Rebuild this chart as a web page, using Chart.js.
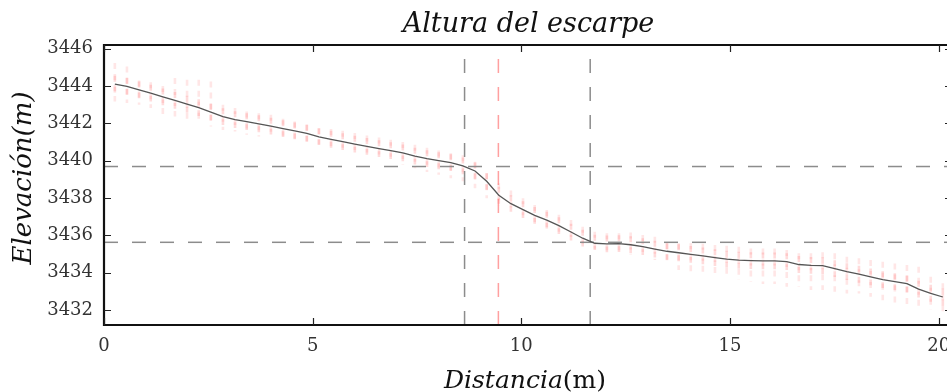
<!DOCTYPE html>
<html><head><meta charset="utf-8">
<script src="https://cdn.jsdelivr.net/npm/chart.js@4.4.0/dist/chart.umd.min.js"></script>
<style>html,body{margin:0;padding:0;background:#fff;overflow:hidden}#wrap{width:947px;height:392px;position:relative}</style>
</head><body><div id="wrap"><canvas id="c"></canvas></div>
<script>
// ---- data ----
const chartTitle = 'Altura del escarpe';
const distance = [0.26,0.55,0.84,1.12,1.41,1.70,1.99,2.27,2.56,2.85,3.14,3.42,3.71,4.00,4.29,4.57,4.86,5.15,5.44,5.72,6.01,6.30,6.59,6.87,7.16,7.45,7.74,8.02,8.31,8.60,8.89,9.17,9.46,9.75,10.04,10.32,10.61,10.90,11.19,11.47,11.76,12.05,12.34,12.62,12.91,13.20,13.49,13.77,14.06,14.35,14.64,14.92,15.21,15.50,15.79,16.07,16.36,16.65,16.94,17.22,17.51,17.80,18.09,18.37,18.66,18.95,19.24,19.52,19.81,20.10];
const elevation = [3444.10,3443.98,3443.80,3443.62,3443.42,3443.23,3443.03,3442.84,3442.60,3442.36,3442.20,3442.09,3441.98,3441.85,3441.72,3441.60,3441.47,3441.28,3441.15,3441.02,3440.89,3440.77,3440.65,3440.54,3440.42,3440.25,3440.11,3440.00,3439.90,3439.72,3439.45,3438.90,3438.15,3437.70,3437.38,3437.07,3436.82,3436.52,3436.18,3435.85,3435.58,3435.55,3435.56,3435.50,3435.40,3435.27,3435.15,3435.07,3434.98,3434.90,3434.81,3434.73,3434.68,3434.65,3434.63,3434.63,3434.60,3434.44,3434.39,3434.38,3434.22,3434.06,3433.92,3433.78,3433.63,3433.52,3433.42,3433.12,3432.90,3432.70];
const errLow = [3443.17,3443.09,3443.00,3442.82,3442.40,3442.37,3442.19,3442.01,3441.83,3441.65,3441.56,3441.39,3441.30,3441.30,3441.20,3441.05,3440.95,3440.85,3440.70,3440.55,3440.31,3440.20,3440.10,3439.95,3439.80,3439.60,3439.40,3439.25,3439.06,3438.90,3438.53,3437.99,3437.60,3437.27,3436.92,3436.56,3436.20,3436.00,3435.66,3435.40,3435.22,3435.04,3435.04,3434.95,3434.86,3434.68,3434.50,3434.14,3433.96,3433.96,3433.78,3433.78,3433.61,3433.50,3433.40,3433.40,3433.25,3433.25,3433.07,3433.07,3432.98,3432.89,3432.89,3432.71,3432.53,3432.36,3432.27,3432.17,3432.00,3431.82];
const errHigh = [3445.23,3445.05,3444.30,3444.20,3444.00,3444.43,3444.34,3444.34,3444.25,3443.00,3442.82,3442.64,3442.55,3442.46,3442.25,3442.10,3441.95,3441.75,3441.70,3441.60,3441.48,3441.35,3441.25,3441.12,3441.00,3440.85,3440.70,3440.55,3440.40,3440.30,3439.95,3439.33,3438.80,3438.40,3437.99,3437.63,3437.36,3437.10,3436.83,3436.47,3436.20,3436.11,3436.11,3436.15,3436.02,3435.93,3435.58,3435.58,3435.58,3435.55,3435.48,3435.45,3435.39,3435.30,3435.30,3435.30,3435.22,3435.04,3435.04,3435.10,3435.04,3434.86,3434.77,3434.68,3434.59,3434.50,3434.41,3434.32,3433.78,3433.43];
const xTicks = [0,5,10,15,20];
const yTicks = [3432,3434,3436,3438,3440,3442,3444,3446];
const hRefs = [3439.69, 3435.63];
const vRefsGrey = [8.64, 11.65];
const vRefsRed = [9.45];
const xRange = [0, 20.2];
const yRange = [3431.2, 3446.2];

const SERIF = '"DejaVu Serif", serif';

const datasets = [];
hRefs.forEach(h => datasets.push({
  data: [{x:xRange[0], y:h},{x:xRange[1], y:h}],
  borderColor:'#8c8c8c', borderWidth:1.5, borderDash:[14,14], pointRadius:0, order:3
}));
vRefsGrey.forEach(v => datasets.push({
  data: [{x:v, y:yRange[1]},{x:v, y:yRange[0]}],
  borderColor:'#8c8c8c', borderWidth:1.5, borderDash:[14,14], borderDashOffset:-14, pointRadius:0, order:3
}));
vRefsRed.forEach(v => datasets.push({
  data: [{x:v, y:yRange[1]},{x:v, y:yRange[0]}],
  borderColor:'rgba(255,120,120,0.7)', borderWidth:1.5, borderDash:[14,14], borderDashOffset:-14, pointRadius:0, order:3
}));
datasets.push({
  data: distance.map((x,i)=>({x, y: elevation[i]})),
  borderColor:'#555', borderWidth:1.3, pointRadius:0, tension:0, order:0
});

const errorBars = {
  id:'errorBars',
  beforeDatasetsDraw(chart){
    const {ctx, scales:{x, y}, chartArea:a} = chart;
    ctx.save();
    ctx.beginPath(); ctx.rect(a.left, a.top, a.right-a.left, a.bottom-a.top); ctx.clip();
    ctx.lineWidth = 2.6;
    ctx.setLineDash([6,5]);
    distance.forEach((d,i)=>{
      const px = x.getPixelForValue(d);
      ctx.strokeStyle = 'rgba(255,90,90,0.15)';
      ctx.beginPath();
      ctx.moveTo(px, y.getPixelForValue(errHigh[i]));
      ctx.lineTo(px, y.getPixelForValue(errLow[i]));
      ctx.stroke();
      ctx.strokeStyle = 'rgba(255,90,90,0.22)';
      const c = elevation[i];
      ctx.beginPath();
      ctx.moveTo(px, y.getPixelForValue(Math.min(errHigh[i], c+0.45)));
      ctx.lineTo(px, y.getPixelForValue(Math.max(errLow[i], c-0.45)));
      ctx.stroke();
    });
    ctx.restore();
  }
};

const frame = {
  id:'frame',
  afterDraw(chart){
    const {ctx, scales:{x, y}, chartArea:a} = chart;
    ctx.save();
    ctx.strokeStyle = '#111';
    ctx.lineWidth = 2.2;
    ctx.beginPath();
    ctx.moveTo(a.right+4, a.top); ctx.lineTo(a.left, a.top); ctx.lineTo(a.left, a.bottom); ctx.lineTo(a.right+4, a.bottom);
    ctx.stroke();
    ctx.lineWidth = 1.2;
    ctx.strokeStyle = '#222';
    ctx.beginPath();
    yTicks.forEach(v=>{
      const py = Math.round(y.getPixelForValue(v))+0.5;
      ctx.moveTo(a.left, py); ctx.lineTo(a.left+7, py);
      ctx.moveTo(a.right+5, py); ctx.lineTo(a.right-2, py);
    });
    xTicks.forEach(v=>{
      const px = Math.round(x.getPixelForValue(v))+0.5;
      ctx.moveTo(px, a.bottom); ctx.lineTo(px, a.bottom-7);
      ctx.moveTo(px, a.top); ctx.lineTo(px, a.top+7);
    });
    ctx.stroke();
    ctx.fillStyle = '#111';
    ctx.textBaseline = 'middle';
    ctx.textAlign = 'center';
    // chart title, centred over the plot area
    ctx.font = 'italic 27px ' + SERIF;
    ctx.fillText(chartTitle, (a.left + a.right + 6)/2, 25);
    // y-axis title
    ctx.save();
    ctx.translate(24, 178);
    ctx.rotate(-Math.PI/2);
    ctx.font = 'italic 26px ' + SERIF;
    ctx.fillText('Elevación(m)', 0, 0);
    ctx.restore();
    // x-axis title: italic word + upright unit
    const cx = 525, cy = 381;
    const f1 = 'italic 25px ' + SERIF, f2 = '25px ' + SERIF;
    ctx.font = f1; const w1 = ctx.measureText('Distancia').width;
    ctx.font = f2; const w2 = ctx.measureText('(m)').width;
    const sx = cx - (w1+w2)/2;
    ctx.textAlign='left';
    ctx.font = f1; ctx.fillText('Distancia', sx, cy);
    ctx.font = f2; ctx.fillText('(m)', sx+w1, cy);
    ctx.restore();
  }
};

new Chart(document.getElementById('c'), {
  type:'line',
  data:{datasets},
  plugins:[errorBars, frame],
  options:{
    responsive:true, maintainAspectRatio:false, animation:false, devicePixelRatio:1,
    layout:{padding:{left:0,right:0,top:45,bottom:0}, autoPadding:false},
    plugins:{ legend:{display:false}, tooltip:{enabled:false}, title:{display:false} },
    scales:{
      x:{type:'linear', min:xRange[0], max:xRange[1],
        grid:{display:false, drawTicks:false}, border:{display:false},
        ticks:{color:'#333', font:{family:SERIF, size:18}, padding:11, autoSkip:false, maxRotation:0},
        afterBuildTicks(s){ s.ticks = xTicks.map(v=>({value:v})); },
        afterFit(s){ s.height = 67; s.paddingLeft = 0; s.paddingRight = 0; }
      },
      y:{type:'linear', min:yRange[0], max:yRange[1],
        grid:{display:false, drawTicks:false}, border:{display:false},
        ticks:{color:'#333', font:{family:SERIF, size:18}, padding:11, callback:(v)=>String(v)},
        afterBuildTicks(s){ s.ticks = yTicks.map(v=>({value:v})); },
        afterFit(s){ s.width = 104; s.paddingTop = 0; s.paddingBottom = 0; }
      }
    }
  }
});
</script></body></html>
